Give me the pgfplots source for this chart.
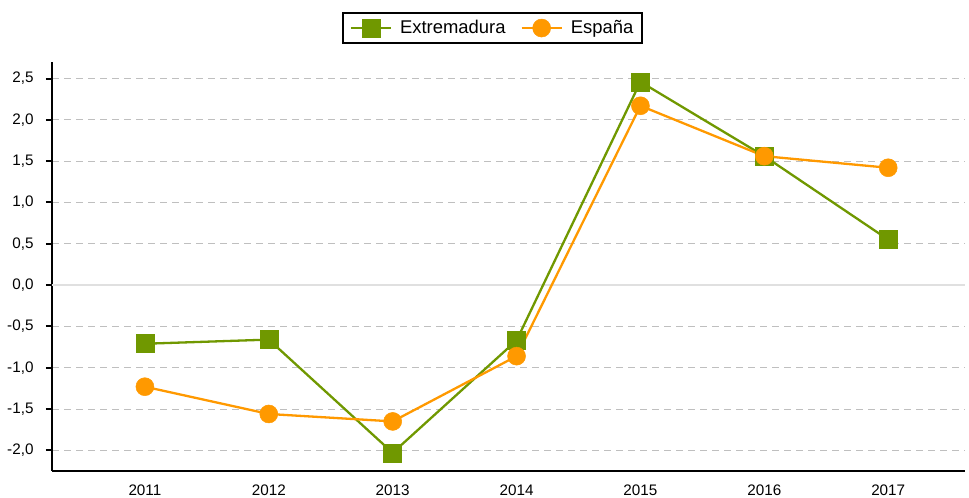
\documentclass[border=0pt]{standalone}
\usepackage{pgfplots}
\pgfplotsset{compat=1.18}
\usepackage{fontspec}
\setmainfont{Liberation Sans}
\definecolor{exgreen}{RGB}{112,152,0}
\definecolor{esorange}{RGB}{255,153,0}
\begin{document}
\begin{tikzpicture}[x=1bp,y=1bp]
\path[use as bounding box] (0,0) rectangle (969,498);
\begin{axis}[
  at={(52bp,27bp)}, anchor=south west,
  width=913bp, height=409bp, scale only axis,
  xmin=-0.75, xmax=6.62, ymin=-2.25, ymax=2.70,
  axis lines=left, axis line style={-, line width=2.4bp, black},
  xtick={0,1,2,3,4,5,6},
  xticklabels={2011,2012,2013,2014,2015,2016,2017},
  major x tick style={draw=none},
  ytick={-2,-1.5,-1,-0.5,0.5,1,1.5,2,2.5},
  extra y ticks={0},
  extra y tick style={grid style={solid, black!12, line width=1.2bp}},
  ymajorgrids,
  grid style={dash pattern=on 7bp off 5bp, black!25, line width=1bp},
  tick align=outside, major tick length=6bp,
  y tick style={black, line width=2bp},
  yticklabel style={xshift=-9bp, /pgf/number format/.cd, fixed, fixed zerofill, precision=1, use comma, assume math mode=true},
  tick label style={font=\fontsize{15.3}{18}\selectfont},
  xticklabel style={yshift=-4.5bp},
  legend style={at={(0.4825,1.083)}, anchor=center, draw=black, line width=2.2bp,
    font=\fontsize{18.5}{22}\selectfont, inner xsep=7bp, inner ysep=5.5bp},
  legend columns=2,
  legend cell align=left,
  /tikz/every odd column/.append style={column sep=6bp},
  /tikz/every even column/.append style={column sep=13bp},
  legend image code/.code={\draw[mark repeat=2,mark phase=2] plot coordinates {(0bp,0bp) (20bp,0bp) (40bp,0bp)};},
  clip=false,
]
\addplot[exgreen, line width=2.3bp, mark=square*, mark size=9bp, mark options={solid, fill=exgreen, draw=exgreen, line width=0.5bp}]
  coordinates {(0,-0.71) (1,-0.66) (2,-2.03) (3,-0.67) (4,2.46) (5,1.56) (6,0.55)};
\addlegendentry{Extremadura}
\addplot[esorange, line width=2.3bp, mark=*, mark size=9bp, mark options={solid, fill=esorange, draw=esorange, line width=0.5bp}]
  coordinates {(0,-1.23) (1,-1.56) (2,-1.65) (3,-0.86) (4,2.17) (5,1.56) (6,1.42)};
\addlegendentry{España}
\end{axis}
\end{tikzpicture}
\end{document}
